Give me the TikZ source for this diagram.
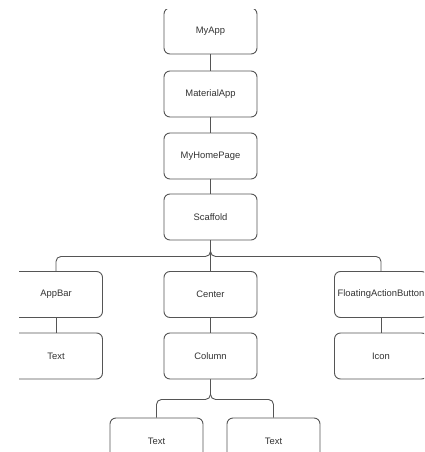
\documentclass[tikz,border=0pt]{standalone}
\usepackage{fontspec}
\setmainfont{Liberation Sans}
\usetikzlibrary{positioning}
\definecolor{wtInk}{HTML}{333333}
\definecolor{wtLine}{HTML}{555555}
\tikzset{
 widgettree/.style={x=1pt,y=-1pt,font=\fontsize{9.4}{11}\selectfont,text=wtInk},
 widget/.style={rectangle,rounded corners=6pt,draw=wtLine,fill=white,line width=.9pt,
   minimum width=93pt,minimum height=46pt,inner sep=0pt},
 link/.style={draw=wtLine,line width=.9pt,rounded corners=5pt}
}
\begin{document}
\begin{tikzpicture}[widgettree]
 \useasboundingbox (0,0) rectangle (424,452);
 \clip (19,10) rectangle (424,452);
 % root chain
 \node[widget] (myapp) at (210.5,31) {MyApp};
 \node[widget] (material) at (210.5,94) {MaterialApp};
 \node[widget] (homepage) at (210.5,156) {MyHomePage};
 \node[widget] (scaffold) at (210.5,217) {Scaffold};
 % scaffold children
 \node[widget] (appbar) at (56,294.5) {AppBar};
 \node[widget] (center) at (210.5,294.5) {Center};
 \node[widget] (fab) at (381,294.5) {FloatingActionButton};
 \node[widget] (bartext) at (56,356) {Text};
 \node[widget] (column) at (210.5,356) {Column};
 \node[widget] (icon) at (381,356) {Icon};
 % column children
 \node[widget] (lefttext) at (156.5,441) {Text};
 \node[widget] (righttext) at (273.5,441) {Text};
 \draw[link] (myapp) -- (material);
 \draw[link] (material) -- (homepage);
 \draw[link] (homepage) -- (scaffold);
 \draw[link] (scaffold.south) -- ++(0,16) -| (appbar.north);
 \draw[link] (scaffold.south) -- (center.north);
 \draw[link] (scaffold.south) -- ++(0,16) -| (fab.north);
 \draw[link] (appbar) -- (bartext);
 \draw[link] (center) -- (column);
 \draw[link] (fab) -- (icon);
 \draw[link] (column.south) -- ++(0,20) -| (lefttext.north);
 \draw[link] (column.south) -- ++(0,20) -| (righttext.north);
\end{tikzpicture}
\end{document}
